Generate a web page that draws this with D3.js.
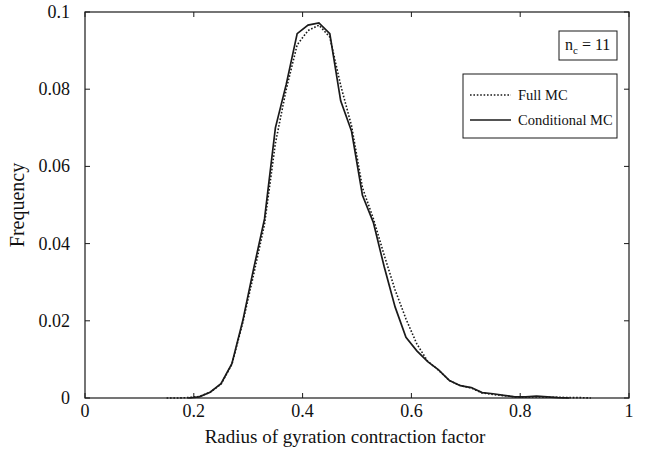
<!DOCTYPE html>
<html><head><meta charset="utf-8">
<script src="https://cdn.jsdelivr.net/npm/d3@7"></script>
<style>body{margin:0;background:#fff}svg{display:block}text{font-family:"Liberation Serif","Times New Roman",serif;fill:#111}</style>
</head><body>
<svg id="c" width="652" height="450"></svg>
<script>
const xs = [0.15,0.17,0.19,0.21,0.23,0.25,0.27,0.29,0.31,0.33,0.35,0.37,0.39,0.41,0.43,0.45,0.47,0.49,0.51,0.53,0.55,0.57,0.59,0.61,0.63,0.65,0.67,0.69,0.71,0.73,0.75,0.77,0.79,0.81,0.83,0.85,0.87,0.89,0.91,0.93];
const fullMC = [0,0,0.0001,0.0004,0.0015,0.0036,0.0087,0.0195,0.032,0.045,0.066,0.080,0.0915,0.0952,0.0966,0.0935,0.081,0.0705,0.0545,0.0465,0.037,0.028,0.0205,0.014,0.0095,0.0072,0.0045,0.0032,0.0026,0.0013,0.0009,0.0006,0.0003,0.0002,0.0003,0.0002,0.0002,0.0001,0.0001,0];
const condMC = [null,null,0,0.0003,0.0015,0.0037,0.0089,0.0200,0.0335,0.0464,0.0700,0.0813,0.0944,0.0966,0.0972,0.0944,0.0770,0.0691,0.0525,0.0455,0.034,0.0236,0.0157,0.0122,0.0094,0.0073,0.0045,0.0032,0.0027,0.0014,0.0011,0.0007,0.0003,0.0003,0.0005,0.0003,0.0001,0,null,null];
const xTicks = [0,0.2,0.4,0.6,0.8,1];
const yTicks = [0,0.02,0.04,0.06,0.08,0.1];
const xTickLabels = ["0","0.2","0.4","0.6","0.8","1"];
const yTickLabels = ["0","0.02","0.04","0.06","0.08","0.1"];
const seriesNames = ["Full MC","Conditional MC"];

const svg = d3.select("#c");
const L=85,R=629,T=12,B=398;
const x = d3.scaleLinear().domain([0,1]).range([L,R]);
const y = d3.scaleLinear().domain([0,0.1]).range([B,T]);
const ink="#1a1a1a";

svg.append("rect").attr("x",L).attr("y",T).attr("width",R-L).attr("height",B-T)
  .attr("fill","none").attr("stroke",ink).attr("stroke-width",1.2);

const tl=5;
xTicks.forEach(v=>{
  svg.append("line").attr("x1",x(v)).attr("x2",x(v)).attr("y1",B).attr("y2",B-tl).attr("stroke",ink);
  svg.append("line").attr("x1",x(v)).attr("x2",x(v)).attr("y1",T).attr("y2",T+tl).attr("stroke",ink);
});
yTicks.forEach(v=>{
  svg.append("line").attr("x1",L).attr("x2",L+tl).attr("y1",y(v)).attr("y2",y(v)).attr("stroke",ink);
  svg.append("line").attr("x1",R).attr("x2",R-tl).attr("y1",y(v)).attr("y2",y(v)).attr("stroke",ink);
});
xTicks.forEach((v,i)=>{
  svg.append("text").attr("x",x(v)).attr("y",B+19).attr("text-anchor","middle")
    .attr("font-size",18).text(xTickLabels[i]);
});
yTicks.forEach((v,i)=>{
  svg.append("text").attr("x",L-15).attr("y",y(v)+6).attr("text-anchor","end")
    .attr("font-size",18).text(yTickLabels[i]);
});

svg.append("text").attr("x",345).attr("y",443).attr("text-anchor","middle")
  .attr("font-size",19).text("Radius of gyration contraction factor");
svg.append("text").attr("transform",`translate(24,${(T+B)/2}) rotate(-90)`).attr("text-anchor","middle")
  .attr("font-size",20).text("Frequency");

const line = d3.line().defined(d=>d[1]!==null).x(d=>x(d[0])).y(d=>y(d[1]));
svg.append("path").datum(xs.map((v,i)=>[v,fullMC[i]])).attr("d",line)
  .attr("fill","none").attr("stroke",ink).attr("stroke-width",1.6).attr("stroke-dasharray","1.6,1.8");
svg.append("path").datum(xs.map((v,i)=>[v,condMC[i]])).attr("d",line)
  .attr("fill","none").attr("stroke",ink).attr("stroke-width",1.7);

// n_c box
svg.append("rect").attr("x",559).attr("y",31).attr("width",58).attr("height",29)
  .attr("fill","#fff").attr("stroke",ink).attr("stroke-width",1);
const nt = svg.append("text").attr("x",565).attr("y",50).attr("font-size",16);
nt.append("tspan").text("n");
nt.append("tspan").attr("font-size",11).attr("dy",4).text("c");
nt.append("tspan").attr("dy",-4).text(" = 11");

// legend
svg.append("rect").attr("x",463).attr("y",74).attr("width",154).attr("height",64)
  .attr("fill","#fff").attr("stroke",ink).attr("stroke-width",1);
const rows=[95,120];
svg.append("line").attr("x1",470).attr("x2",511).attr("y1",rows[0]).attr("y2",rows[0])
  .attr("stroke",ink).attr("stroke-width",1.6).attr("stroke-dasharray","1.6,1.8");
svg.append("line").attr("x1",470).attr("x2",511).attr("y1",rows[1]).attr("y2",rows[1])
  .attr("stroke",ink).attr("stroke-width",1.7);
seriesNames.forEach((n,i)=>{
  svg.append("text").attr("x",518).attr("y",rows[i]+5).attr("font-size",14.5).text(n);
});
</script>
</body></html>
